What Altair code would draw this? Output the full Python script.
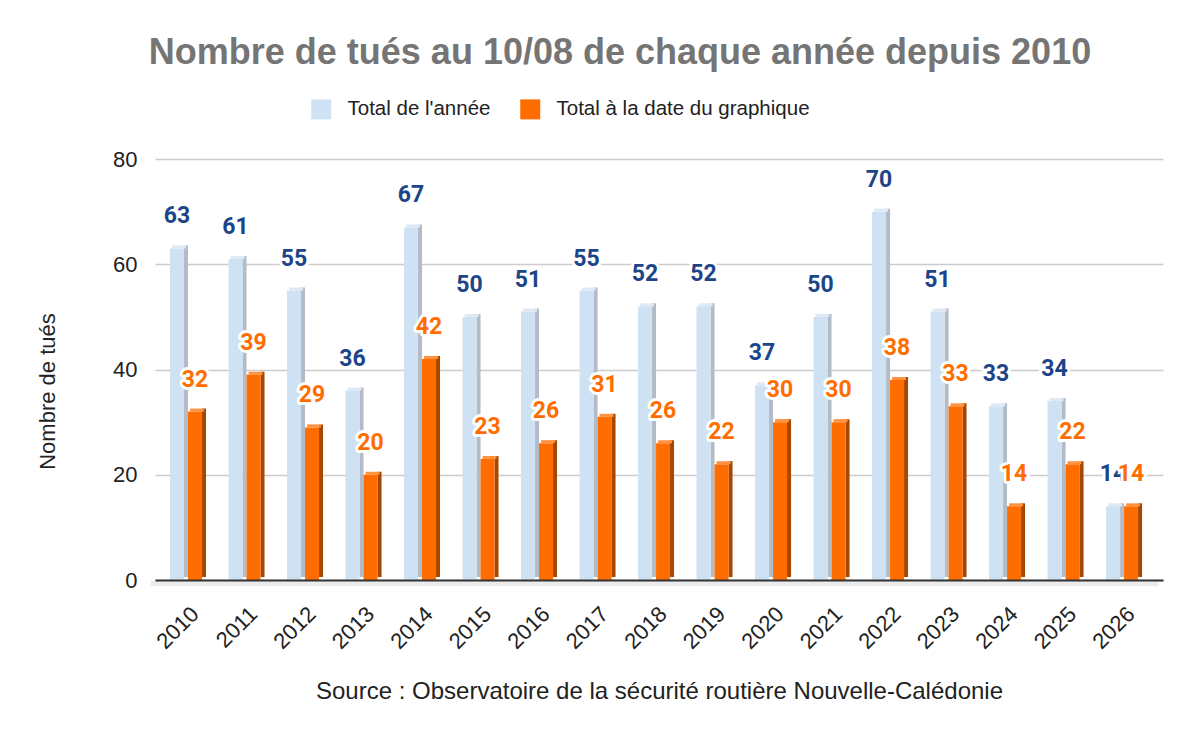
"""Nombre de tués au 10/08 de chaque année depuis 2010 (Nouvelle-Calédonie).

Barres groupées avec un faux effet 3D : face avant, flanc sombre, dessus clair.
"""

import altair as alt
import pandas as pd

YEARS = [str(y) for y in range(2010, 2027)]
TOTAL_ANNEE = [63, 61, 55, 36, 67, 50, 51, 55, 52, 52, 37, 50, 70, 51, 33, 34, 14]
TOTAL_DATE = [32, 39, 29, 20, 42, 23, 26, 31, 26, 22, 30, 30, 38, 33, 14, 22, 14]

SERIES = ["Total de l'année", "Total à la date du graphique"]
FRONT = ["#cfe2f3", "#ff6d01"]
SIDE = ["#b3bcc6", "#a84800"]
TOP = ["#dde9f5", "#ff913f"]
LABEL = ["#1c4587", "#ff6d01"]

FONT = "Liberation Sans"
NUM_FONT = "Roboto"

# offsets horizontaux (px) de chaque série autour du centre de bande
FRONT_DX = [-11, 7]
BAR_W = 14
SIDE_W = 4
DEPTH = 3

df = pd.DataFrame(
    {
        "year": YEARS * 2,
        "serie": [SERIES[0]] * len(YEARS) + [SERIES[1]] * len(YEARS),
        "value": TOTAL_ANNEE + TOTAL_DATE,
    }
)

x_enc = alt.X(
    "year:N",
    title="Source : Observatoire de la sécurité routière Nouvelle-Calédonie",
    scale=alt.Scale(paddingInner=0, paddingOuter=0.115, align=0.28),
    axis=alt.Axis(
        labelAngle=-45,
        labelAlign="right",
        labelBaseline="top",
        labelFont=FONT,
        labelFontSize=22,
        labelColor="#222222",
        labelPadding=23,
        labelOffset=0,
        ticks=False,
        grid=False,
        domainColor="#333333",
        domainWidth=2,
        zindex=1,
        titleFont=FONT,
        titleFontSize=24,
        titleFontWeight="normal",
        titleColor="#222222",
        titlePadding=27,
    ),
)
y_enc = alt.Y(
    "value:Q",
    title="Nombre de tués",
    scale=alt.Scale(domain=[0, 80]),
    axis=alt.Axis(
        values=[0, 20, 40, 60, 80],
        labelFont=FONT,
        labelFontSize=22,
        labelColor="#222222",
        labelPadding=18,
        ticks=False,
        domain=False,
        gridColor="#cccccc",
        gridWidth=1.5,
        titleFont=FONT,
        titleFontSize=22,
        titleFontWeight="normal",
        titleColor="#222222",
        titleAngle=-90,
        titleX=-108,
        titleY=232,
        titleBaseline="middle",
    ),
)

color_scale = alt.Scale(domain=SERIES, range=FRONT)

base = alt.Chart(df)

# ombre du sol sous la ligne de base
floor = (
    alt.Chart(pd.DataFrame({"k": [0]}))
    .mark_rect(color="#ebebeb")
    .encode(x=alt.value(-4), x2=alt.value(1004), y=alt.value(422), y2=alt.value(427))
)

layers = [floor]
for i, serie in enumerate(SERIES):
    sub = base.transform_filter(alt.datum.serie == serie)
    front = sub.mark_bar(width=BAR_W, xOffset=FRONT_DX[i], opacity=1).encode(
        x=x_enc,
        y=y_enc,
        color=alt.Color(
            "serie:N",
            scale=color_scale,
            sort=SERIES,
            legend=alt.Legend(
                title=None,
                orient="none",
                legendX=156,
                legendY=-60,
                direction="horizontal",
                symbolType="square",
                symbolSize=400,
                symbolStrokeWidth=0,
                symbolOpacity=1,
                labelFont=FONT,
                labelFontSize=20.5,
                labelColor="#222222",
                labelOffset=16,
                labelLimit=500,
                columnPadding=29,
            ),
        ),
    )
    side = sub.mark_bar(
        width=SIDE_W,
        xOffset=FRONT_DX[i] + BAR_W / 2 + SIDE_W / 2,
        yOffset=-DEPTH,
        color=SIDE[i],
    ).encode(x="year:N", y="value:Q")
    top = sub.mark_bar(
        width=BAR_W,
        xOffset=FRONT_DX[i] + 2,
        y2Offset=-DEPTH,
        color=TOP[i],
    ).encode(x="year:N", y="value:Q", y2="value:Q")
    layers += [side, front, top]

for i, serie in enumerate(SERIES):
    sub = base.transform_filter(alt.datum.serie == serie)
    txt = dict(
        font=NUM_FONT,
        fontSize=23,
        fontWeight="bold",
        baseline="middle",
        align="center",
        dx=FRONT_DX[i],
        dy=-32,
    )
    halo = sub.mark_text(
        **txt, stroke="white", strokeWidth=6, strokeJoin="round", color="white"
    ).encode(x="year:N", y="value:Q", text="value:Q")
    label = sub.mark_text(**txt, color=LABEL[i]).encode(
        x="year:N", y="value:Q", text="value:Q"
    )
    layers += [halo, label]

chart = (
    alt.layer(*layers)
    .properties(
        width=1008,
        height=421,
        autosize=alt.AutoSizeParams(type="none"),
        padding={"left": 147, "top": 151, "right": 29, "bottom": 150},
        title=alt.TitleParams(
            "Nombre de tués au 10/08 de chaque année depuis 2010",
            font=FONT,
            fontSize=36,
            fontWeight="bold",
            color="#757575",
            anchor="middle",
            dx=-39,
            offset=27,
        ),
    )
    .configure_view(stroke=None)
)

chart.save("out.html", embed_options={"renderer": "svg", "actions": False})
